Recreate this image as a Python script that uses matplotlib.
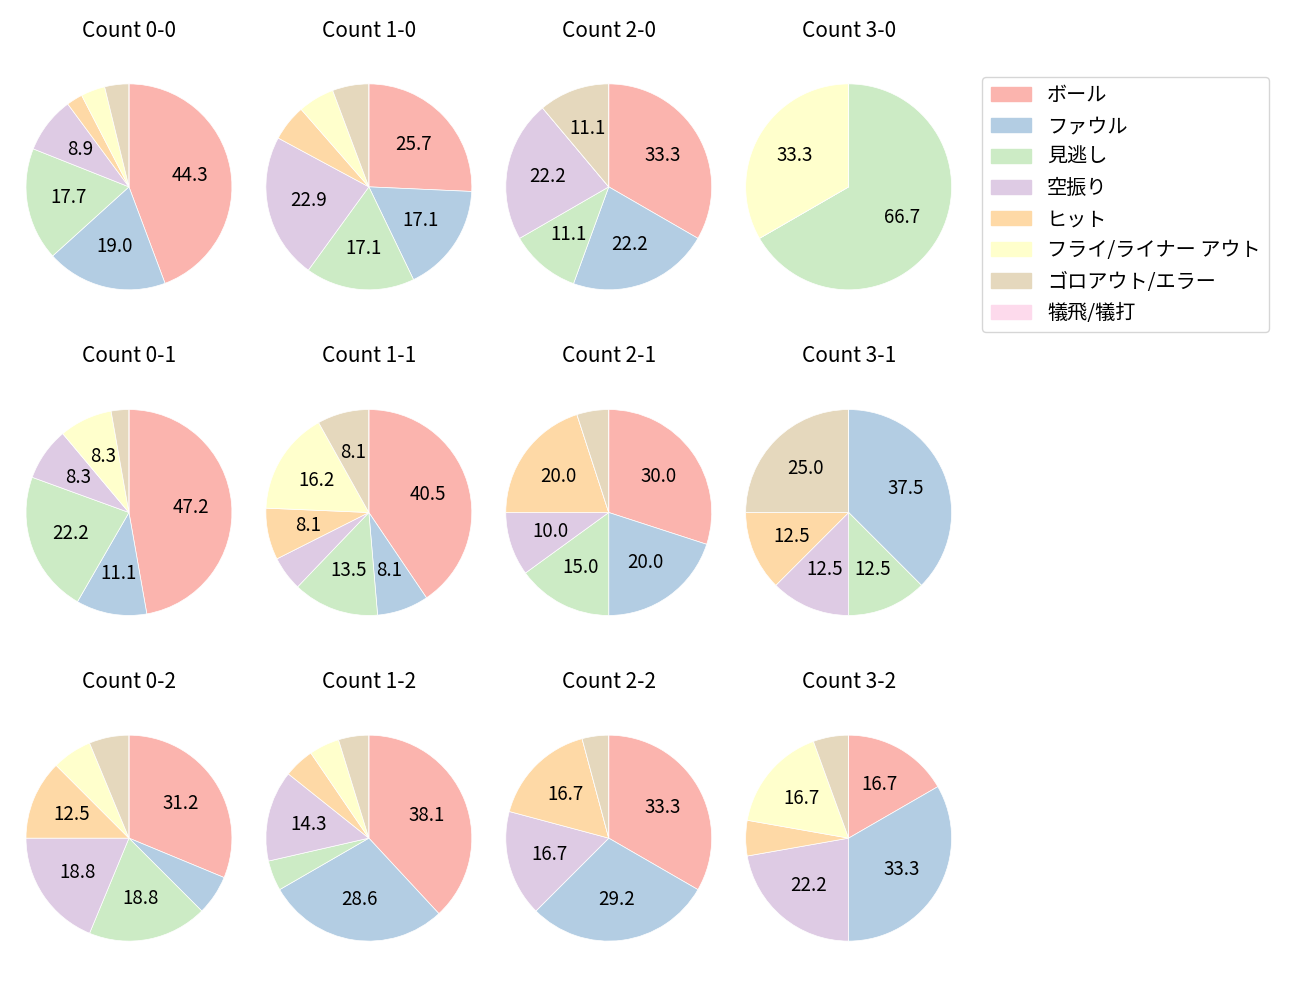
import matplotlib.pyplot as plt
import numpy as np

plt.rcParams['font.family'] = ['Noto Sans CJK JP', 'DejaVu Sans']

labels = ['ボール', 'ファウル', '見逃し', '空振り', 'ヒット',
          'フライ/ライナー アウト', 'ゴロアウト/エラー', '犠飛/犠打']

titles = ['Count 0-0', 'Count 1-0', 'Count 2-0', 'Count 3-0',
          'Count 0-1', 'Count 1-1', 'Count 2-1', 'Count 3-1',
          'Count 0-2', 'Count 1-2', 'Count 2-2', 'Count 3-2']

# counts per result, in label order
c00 = [35, 15, 14, 7, 2, 3, 3, 0]
c10 = [9, 6, 6, 8, 2, 2, 2, 0]
c20 = [3, 2, 1, 2, 0, 0, 1, 0]
c30 = [0, 0, 2, 0, 0, 1, 0, 0]
c01 = [17, 4, 8, 3, 0, 3, 1, 0]
c11 = [15, 3, 5, 2, 3, 6, 3, 0]
c21 = [6, 4, 3, 2, 4, 0, 1, 0]
c31 = [0, 3, 1, 1, 1, 0, 2, 0]
c02 = [5, 1, 3, 3, 2, 1, 1, 0]
c12 = [8, 6, 1, 3, 1, 1, 1, 0]
c22 = [8, 7, 0, 4, 4, 0, 1, 0]
c32 = [3, 6, 0, 4, 1, 3, 1, 0]

data = [c00, c10, c20, c30, c01, c11, c21, c31, c02, c12, c22, c32]

colors = plt.cm.Pastel1(np.arange(8))

fig, axes = plt.subplots(3, 4, figsize=(13, 10))
fig.subplots_adjust(left=0.02, right=0.732, top=0.958, bottom=0.017,
                    wspace=0.165, hspace=0.124)

def fmt(p):
    return '%.1f' % p if p > 7 else ''

for ax, t, d in zip(axes.flat, titles, data):
    ax.pie(d, colors=colors, startangle=90, counterclock=False, radius=1.25,
           autopct=fmt, wedgeprops={'linewidth': 0.5, 'edgecolor': 'white'},
           textprops={'fontsize': 13.5})
    ax.set_title(t, fontsize=15, pad=34)

handles = [plt.Rectangle((0, 0), 1, 1, color=c) for c in colors]
fig.legend(handles, labels, loc='upper left', bbox_to_anchor=(0.748, 0.933),
           fontsize=14.5)

plt.savefig('out.png', dpi=100)
